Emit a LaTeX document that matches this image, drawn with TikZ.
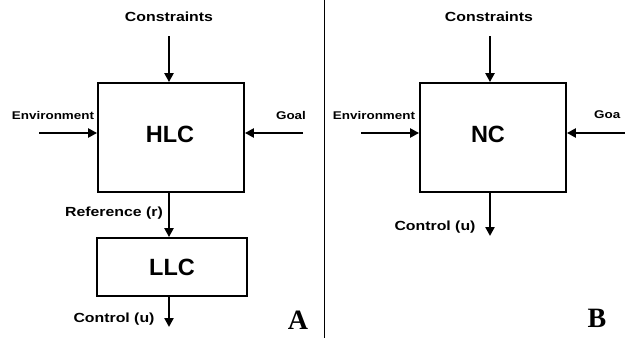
\documentclass[tikz,border=0pt]{standalone}
\usepackage{fontspec}
\usetikzlibrary{arrows.meta}
\newfontfamily\lblfont[FakeStretch=1.2]{Liberation Sans}
\newfontfamily\boxfont{Liberation Sans}
\newfontfamily\tagfont{Liberation Serif}
\tikzset{
	arr/.style = {line width=2.6pt, -{Triangle[length=9pt,width=9pt]}},
	ctrlbox/.style = {draw, line width=1.8pt, inner sep=0pt, font=\boxfont\bfseries\fontsize{23.5}{23.5}\selectfont},
	lbl/.style = {inner sep=0pt, font=\lblfont\bfseries\fontsize{13.2}{13}\selectfont},
	sidelbl/.style = {inner sep=0pt, font=\lblfont\bfseries\fontsize{11.2}{11}\selectfont},
	tag/.style = {inner sep=0pt, font=\tagfont\bfseries\fontsize{28}{28}\selectfont},
}
\begin{document}
\begin{tikzpicture} [x = 1pt, y = -1pt,]
	\useasboundingbox (0, 0) rectangle (625, 340);
	\clip (0, 0) rectangle (625, 340);
% A : hierarchical
	\node [ctrlbox, minimum width=146pt, minimum height=109pt] (hlc) at (171, 137.5) {};
	\node [ctrlbox, draw=none] (hlct) at (170, 134) {HLC};
	\node [ctrlbox, minimum width=150pt, minimum height=58pt] (llc) at (172, 267) {LLC};
	\node [lbl] (cons1) at (169, 17) {Constraints};
	\node [sidelbl] (env1) at (53, 115) {Environment};
	\node [sidelbl] (goal1) at (291, 115) {Goal};
	\node [lbl] (ref1) at (114, 213) {Reference (r)};
	\node [lbl] (ctl1) at (114, 319) {Control (u)};
	\node [tag] (tagA) at (298, 320) {A};
	\coordinate (c1) at (169, 36);
	\coordinate (e1) at (39, 133);
	\coordinate (g1) at (303, 133);
	\coordinate (u1) at (169, 327);
	\draw [arr] (c1) -- (c1 |- hlc.north);
	\draw [arr] (e1) -- (e1 -| hlc.west);
	\draw [arr] (g1) -- (g1 -| hlc.east);
	\draw [arr] (hlc.south -| c1) -- (llc.north -| c1);
	\draw [arr] (llc.south -| c1) -- (u1);
% divider
	\coordinate (d1) at (324, 0);
	\coordinate (d2) at (324, 338);
	\draw [line width=0.9pt] (d1) -- (d2);
% B : single controller
	\node [ctrlbox, minimum width=146pt, minimum height=109pt] (nc) at (493, 137.5) {};
	\node [ctrlbox, draw=none] (nct) at (488, 134) {NC};
	\node [lbl] (cons2) at (489, 17) {Constraints};
	\node [sidelbl] (env2) at (374, 115) {Environment};
	\node [sidelbl, anchor=west] (goal2) at (594, 115) {Goa};
	\node [lbl] (ctl2) at (435, 227) {Control (u)};
	\node [tag] (tagB) at (597, 318) {B};
	\coordinate (c2) at (490, 36);
	\coordinate (e2) at (361, 133);
	\coordinate (g2) at (626, 133);
	\coordinate (u2) at (490, 236);
	\draw [arr] (c2) -- (c2 |- nc.north);
	\draw [arr] (e2) -- (e2 -| nc.west);
	\draw [arr] (g2) -- (g2 -| nc.east);
	\draw [arr] (nc.south -| c2) -- (u2);
\end{tikzpicture}
\end{document}
